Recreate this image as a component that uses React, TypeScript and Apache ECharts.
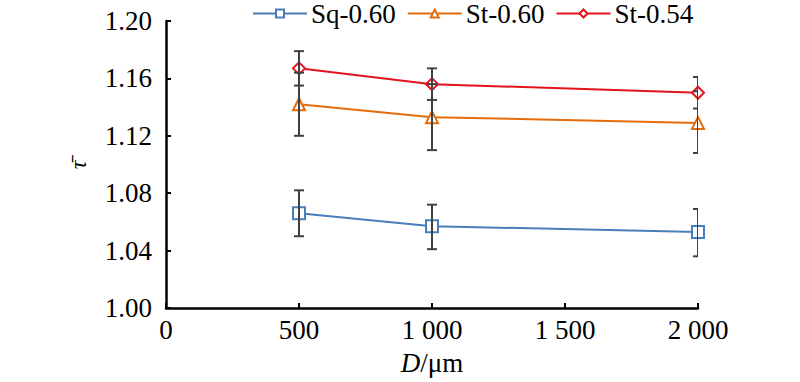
import React, { useEffect, useRef } from "react";
import * as echarts from "echarts";

const xValues = [500, 1000, 2000];
const seriesNames = ["Sq-0.60", "St-0.60", "St-0.54"];
const sqMean = [1.066, 1.057, 1.053];
const sqLow = [1.05, 1.041, 1.036];
const sqHigh = [1.082, 1.072, 1.069];
const st60Mean = [1.142, 1.133, 1.129];
const st60Low = [1.12, 1.11, 1.108];
const st60High = [1.164, 1.156, 1.151];
const st54Mean = [1.167, 1.156, 1.15];
const st54Low = [1.155, 1.145, 1.139];
const st54High = [1.179, 1.167, 1.161];

const colors = ["#4a7ebb", "#e46c0a", "#e3141e"];
const symbols = ["rect", "triangle", "diamond"];
const FONT = "Liberation Serif";
const FS = 27;

function fmtX(v: number) {
  if (v >= 1000) {
    const s = String(v);
    return s.slice(0, s.length - 3) + " " + s.slice(s.length - 3);
  }
  return String(v);
}

export default function App() {
  const ref = useRef<HTMLDivElement>(null);
  useEffect(() => {
    if (!ref.current) return;
    document.body.style.margin = "0";
    const chart = echarts.init(ref.current, undefined, { renderer: "svg" });
    const means = [sqMean, st60Mean, st54Mean];
    const lows = [sqLow, st60Low, st54Low];
    const highs = [sqHigh, st60High, st54High];

    const lineSeries = seriesNames.map((name, i) => ({
      name,
      type: "line",
      data: xValues.map((x, j) => [x, means[i][j]]),
      symbol: symbols[i],
      symbolSize: 12,
      showAllSymbol: true,
      lineStyle: { color: colors[i], width: 2 },
      itemStyle: { color: "#ffffff", borderColor: colors[i], borderWidth: 2 },
      z: 3,
    }));

    const errData: number[][] = [];
    for (let i = 0; i < 3; i++) {
      for (let j = 0; j < xValues.length; j++) {
        errData.push([xValues[j], lows[i][j], highs[i][j]]);
      }
    }

    const errSeries = {
      type: "custom",
      name: "err",
      clip: true,
      z: 4,
      silent: true,
      data: errData,
      encode: { x: 0, y: [1, 2] },
      renderItem: (params: any, api: any) => {
        const x = api.value(0);
        const lo = api.coord([x, api.value(1)]);
        const hi = api.coord([x, api.value(2)]);
        const cs = params.coordSys;
        const hw = 5;
        const left = lo[0] - hw;
        const right = Math.min(lo[0] + hw, cs.x + cs.width);
        const style = { stroke: "#404040", lineWidth: 2 };
        return {
          type: "group",
          children: [
            { type: "line", shape: { x1: lo[0], y1: lo[1], x2: hi[0], y2: hi[1] }, style },
            { type: "line", shape: { x1: left, y1: lo[1], x2: right, y2: lo[1] }, style },
            { type: "line", shape: { x1: left, y1: hi[1], x2: right, y2: hi[1] }, style },
          ],
        };
      },
    };

    chart.setOption({
      animation: false,
      legend: {
        data: seriesNames,
        top: 0,
        left: 252,
        padding: 0,
        itemWidth: 54,
        itemHeight: 10,
        itemGap: 11,
        textStyle: { fontFamily: FONT, fontSize: FS, color: "#000", padding: [0, 0, 0, -1] },
      },
      graphic: [
        {
          type: "text",
          x: 78,
          y: 165,
          rotation: Math.PI / 2,
          style: {
            text: "τ̄",
            fontFamily: FONT,
            fontSize: 24,
            fontStyle: "italic",
            fill: "#000",
            align: "center",
            verticalAlign: "middle",
          },
        },
      ],
      grid: { left: 166, right: 102, top: 21, bottom: 74 },
      xAxis: {
        type: "value",
        min: 0,
        max: 2000,
        interval: 500,
        name: "{i|D}{a|/μm}",
        nameLocation: "middle",
        nameGap: 41,
        nameTextStyle: {
          fontFamily: FONT,
          fontSize: FS,
          color: "#000",
          rich: {
            a: { fontFamily: FONT, fontSize: FS, color: "#000" },
            i: { fontFamily: FONT, fontSize: FS, fontStyle: "italic", color: "#000" },
          },
        },
        axisLine: { lineStyle: { color: "#000", width: 2.5 } },
        axisTick: { inside: true, length: 5, lineStyle: { color: "#000", width: 2 } },
        axisLabel: {
          fontFamily: FONT,
          fontSize: FS,
          color: "#000",
          margin: 8,
          formatter: (v: number) => fmtX(v),
        },
        splitLine: { show: false },
      },
      yAxis: {
        type: "value",
        min: 1.0,
        max: 1.2,
        interval: 0.04,
        axisLine: { show: true, lineStyle: { color: "#000", width: 2.5 } },
        axisTick: { show: true, inside: true, length: 5, lineStyle: { color: "#000", width: 2 } },
        axisLabel: {
          fontFamily: FONT,
          fontSize: FS,
          color: "#000",
          margin: 14,
          formatter: (v: number) => v.toFixed(2),
        },
        splitLine: { show: false },
      },
      series: [...lineSeries, errSeries],
    });
    return () => chart.dispose();
  }, []);
  return <div ref={ref} style={{ width: 800, height: 382 }} />;
}
